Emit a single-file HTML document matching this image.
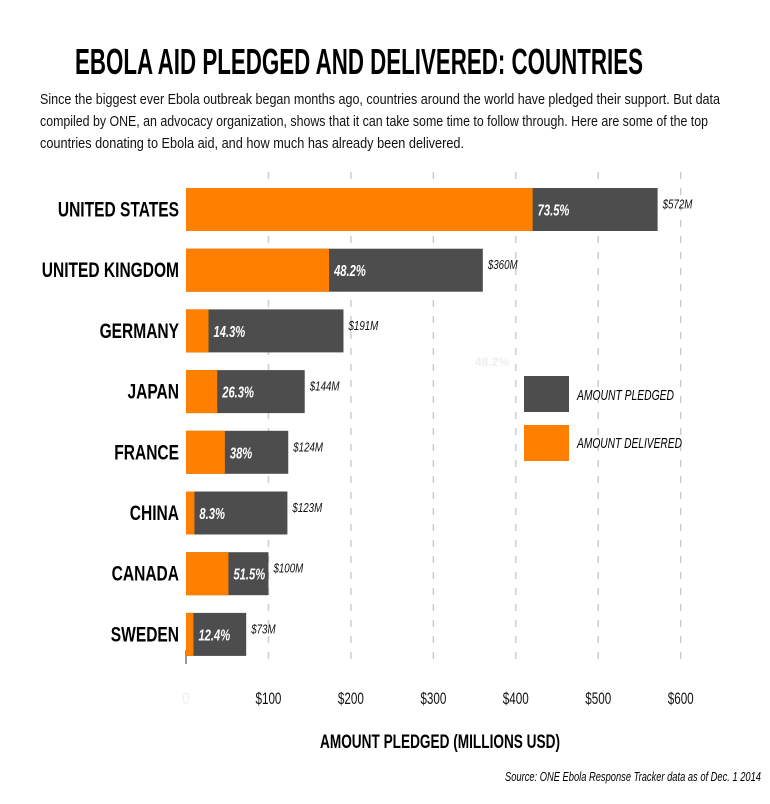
<!DOCTYPE html>
<html><head><meta charset="utf-8"><style>
body{margin:0;background:#fff}
svg{display:block;font-family:"Liberation Sans",sans-serif}
</style></head><body>
<svg id="chart" width="770" height="804" viewBox="0 0 770 804">
<text x="75" y="74" font-size="36" font-weight="bold" textLength="568" lengthAdjust="spacingAndGlyphs">EBOLA AID PLEDGED AND DELIVERED: COUNTRIES</text>
<g font-size="15" fill="#111">
<text x="40" y="104" textLength="680" lengthAdjust="spacingAndGlyphs">Since the biggest ever Ebola outbreak began months ago, countries around the world have pledged their support. But data</text>
<text x="40" y="126" textLength="668" lengthAdjust="spacingAndGlyphs">compiled by ONE, an advocacy organization, shows that it can take some time to follow through. Here are some of the top</text>
<text x="40" y="148" textLength="424" lengthAdjust="spacingAndGlyphs">countries donating to Ebola aid, and how much has already been delivered.</text>
</g>
<g id="grid"></g>
<g id="bars"></g>
<g id="xticks"></g>
<text x="440" y="748" font-size="19" font-weight="bold" text-anchor="middle" textLength="240" lengthAdjust="spacingAndGlyphs">AMOUNT PLEDGED (MILLIONS USD)</text>
<text x="761" y="781" font-size="13" font-style="italic" text-anchor="end" textLength="256" lengthAdjust="spacingAndGlyphs">Source: ONE Ebola Response Tracker data as of Dec. 1 2014</text>
<text x="492" y="366" font-size="12" font-weight="bold" fill="#eee" text-anchor="middle">48.2%</text>
<g>
<rect x="524" y="376" width="45" height="36" fill="#4d4d4d"/>
<text x="577" y="400" font-size="15" font-style="italic" textLength="97" lengthAdjust="spacingAndGlyphs">AMOUNT PLEDGED</text>
<rect x="524" y="425" width="45" height="36" fill="#ff8000"/>
<text x="577" y="448" font-size="15" font-style="italic" textLength="105" lengthAdjust="spacingAndGlyphs">AMOUNT DELIVERED</text>
</g>
</svg>
<script>
const countries=["UNITED STATES","UNITED KINGDOM","GERMANY","JAPAN","FRANCE","CHINA","CANADA","SWEDEN"];
const pledged=[572,360,191,144,124,123,100,73];
const deliveredPct=[73.5,48.2,14.3,26.3,38,8.3,51.5,12.4];
const pctLabels=["73.5%","48.2%","14.3%","26.3%","38%","8.3%","51.5%","12.4%"];
const tickValues=[0,100,200,300,400,500,600];
const tickLabels=["0","$100","$200","$300","$400","$500","$600"];
const NS="http://www.w3.org/2000/svg";
const x0=186,scale=0.8245;
const xs=v=>x0+v*scale;
const yTop=i=>188+i*60.7, barH=43;
function mk(tag,attrs,parent,txt){const e=document.createElementNS(NS,tag);for(const k in attrs)e.setAttribute(k,attrs[k]);if(txt!==undefined)e.textContent=txt;parent.appendChild(e);return e;}
const grid=document.getElementById('grid'),bars=document.getElementById('bars'),xt=document.getElementById('xticks');
tickValues.forEach((v,i)=>{
  if(v>0){const l=mk('line',{x1:xs(v),x2:xs(v),y1:172,y2:662,stroke:'#ccc','stroke-width':1.5,'stroke-dasharray':'7,9'},grid);
  
  }
  const t=mk('text',{x:xs(v),y:704,'font-size':17,'text-anchor':'middle',fill:v===0?'#f0f0f0':'#111',textLength:v===0?8:26,lengthAdjust:'spacingAndGlyphs'},xt,tickLabels[i]);
  
  
});
const ax=mk('line',{x1:x0,x2:x0,y1:650,y2:664,stroke:'#777','stroke-width':1.5},grid);


countries.forEach((c,i)=>{
  const y=yTop(i),p=pledged[i],d=p*deliveredPct[i]/100;
  const r1=mk('rect',{x:x0,y:y,width:xs(p)-x0,height:barH,fill:'#4d4d4d'},bars);
  
  
  const r2=mk('rect',{x:x0,y:y,width:xs(d)-x0,height:barH,fill:'#ff8000'},bars);
  
  
  const lbl=mk('text',{x:0,y:0,'font-size':21,'font-weight':'bold','text-anchor':'end',transform:`translate(179,${y+barH/2+7}) scale(0.74,1)`},bars,c);
  
  
  const pl=mk('text',{x:0,y:0,'font-size':16,'font-weight':'bold','font-style':'italic',fill:'#fff',transform:`translate(${xs(d)+5},${y+barH/2+6}) scale(0.7,1)`},bars,pctLabels[i]);
  
  
  const vl=mk('text',{x:0,y:0,'font-size':13,'font-style':'italic',fill:'#111',transform:`translate(${xs(p)+5},${y+barH/2-1}) scale(0.75,1)`},bars,'$'+p+'M');
  
  
});
</script>
</body></html>
